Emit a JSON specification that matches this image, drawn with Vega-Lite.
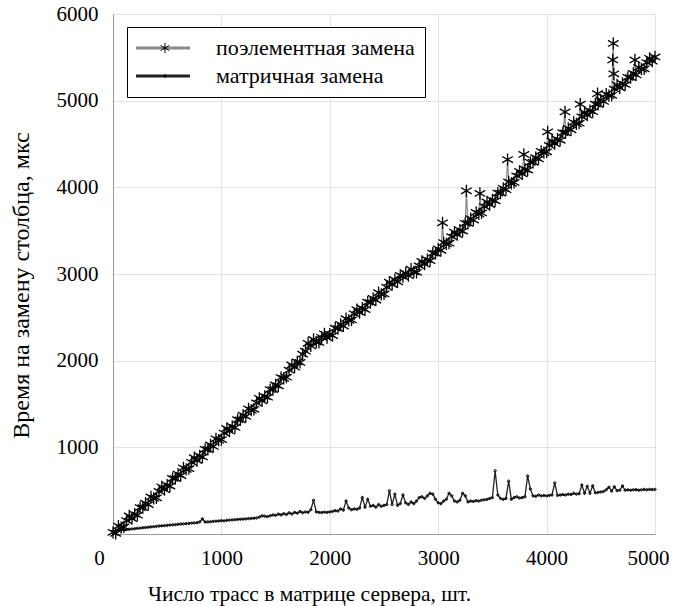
{
"$schema": "https://vega.github.io/schema/vega-lite/v6.json",
"width": 542, "height": 520,
"autosize": {"type": "none"},
"padding": {"left": 113, "top": 14, "right": 19, "bottom": 72},
"background": "white",
"config": {"font": "Liberation Serif", "view": {"stroke": "#888888", "strokeWidth": 1}},
"datasets": {
"p": [
{"x":0,"y":20},{"x":25,"y":8},{"x":50,"y":91},{"x":75,"y":74},{"x":100,"y":82},{"x":125,"y":155},{"x":150,"y":208},{"x":175,"y":176},{"x":200,"y":229},{"x":225,"y":217},
{"x":250,"y":305},{"x":275,"y":303},{"x":300,"y":356},{"x":325,"y":339},{"x":350,"y":427},{"x":375,"y":410},{"x":400,"y":418},{"x":425,"y":491},{"x":450,"y":544},{"x":475,"y":512},
{"x":500,"y":565},{"x":525,"y":553},{"x":550,"y":641},{"x":575,"y":639},{"x":600,"y":692},{"x":625,"y":675},{"x":650,"y":763},{"x":675,"y":746},{"x":700,"y":754},{"x":725,"y":827},
{"x":750,"y":880},{"x":775,"y":848},{"x":800,"y":901},{"x":825,"y":889},{"x":850,"y":977},{"x":875,"y":975},{"x":900,"y":1028},{"x":925,"y":1011},{"x":950,"y":1099},{"x":975,"y":1082},
{"x":1000,"y":1090},{"x":1025,"y":1164},{"x":1050,"y":1218},{"x":1075,"y":1187},{"x":1100,"y":1241},{"x":1125,"y":1230},{"x":1150,"y":1319},{"x":1175,"y":1318},{"x":1200,"y":1372},{"x":1225,"y":1356},
{"x":1250,"y":1445},{"x":1275,"y":1429},{"x":1300,"y":1438},{"x":1325,"y":1512},{"x":1350,"y":1566},{"x":1375,"y":1535},{"x":1400,"y":1589},{"x":1425,"y":1578},{"x":1450,"y":1667},{"x":1475,"y":1666},
{"x":1500,"y":1720},{"x":1525,"y":1710},{"x":1550,"y":1805},{"x":1575,"y":1795},{"x":1600,"y":1810},{"x":1625,"y":1890},{"x":1650,"y":1950},{"x":1675,"y":1925},{"x":1700,"y":1985},{"x":1725,"y":1980},
{"x":1750,"y":2075},{"x":1775,"y":2110},{"x":1800,"y":2200},{"x":1825,"y":2170},{"x":1850,"y":2245},{"x":1875,"y":2215},{"x":1900,"y":2210},{"x":1925,"y":2270},{"x":1950,"y":2310},{"x":1975,"y":2265},
{"x":2000,"y":2305},{"x":2025,"y":2290},{"x":2050,"y":2375},{"x":2075,"y":2370},{"x":2100,"y":2420},{"x":2125,"y":2400},{"x":2150,"y":2485},{"x":2175,"y":2465},{"x":2200,"y":2470},{"x":2225,"y":2540},
{"x":2250,"y":2590},{"x":2275,"y":2555},{"x":2300,"y":2605},{"x":2325,"y":2590},{"x":2350,"y":2675},{"x":2375,"y":2670},{"x":2400,"y":2720},{"x":2425,"y":2700},{"x":2450,"y":2785},{"x":2475,"y":2765},
{"x":2500,"y":2770},{"x":2525,"y":2848},{"x":2550,"y":2905},{"x":2575,"y":2878},{"x":2600,"y":2935},{"x":2625,"y":2910},{"x":2650,"y":2985},{"x":2675,"y":2970},{"x":2700,"y":3010},{"x":2725,"y":2980},
{"x":2750,"y":3055},{"x":2775,"y":3025},{"x":2800,"y":3020},{"x":2825,"y":3093},{"x":2850,"y":3145},{"x":2875,"y":3113},{"x":2900,"y":3165},{"x":2925,"y":3153},{"x":2950,"y":3240},{"x":2975,"y":3238},
{"x":3000,"y":3290},{"x":3025,"y":3274},{"x":3040,"y":3590},{"x":3050,"y":3363},{"x":3075,"y":3347},{"x":3100,"y":3356},{"x":3125,"y":3430},{"x":3150,"y":3484},{"x":3175,"y":3453},{"x":3200,"y":3507},
{"x":3225,"y":3496},{"x":3250,"y":3585},{"x":3260,"y":3960},{"x":3275,"y":3584},{"x":3300,"y":3638},{"x":3325,"y":3622},{"x":3350,"y":3711},{"x":3375,"y":3695},{"x":3385,"y":3930},{"x":3400,"y":3704},
{"x":3425,"y":3778},{"x":3450,"y":3832},{"x":3475,"y":3801},{"x":3500,"y":3855},{"x":3525,"y":3845},{"x":3550,"y":3934},{"x":3575,"y":3934},{"x":3600,"y":3988},{"x":3625,"y":3973},{"x":3640,"y":4320},
{"x":3650,"y":4062},{"x":3675,"y":4047},{"x":3700,"y":4056},{"x":3725,"y":4131},{"x":3750,"y":4185},{"x":3775,"y":4155},{"x":3790,"y":4380},{"x":3800,"y":4209},{"x":3825,"y":4199},{"x":3850,"y":4288},
{"x":3875,"y":4288},{"x":3900,"y":4342},{"x":3925,"y":4327},{"x":3950,"y":4416},{"x":3975,"y":4401},{"x":4000,"y":4410},{"x":4010,"y":4640},{"x":4025,"y":4483},{"x":4050,"y":4535},{"x":4075,"y":4503},
{"x":4100,"y":4555},{"x":4125,"y":4543},{"x":4150,"y":4630},{"x":4170,"y":4870},{"x":4175,"y":4628},{"x":4200,"y":4680},{"x":4225,"y":4663},{"x":4250,"y":4750},{"x":4275,"y":4733},{"x":4300,"y":4740},
{"x":4310,"y":4960},{"x":4325,"y":4813},{"x":4350,"y":4865},{"x":4375,"y":4833},{"x":4400,"y":4885},{"x":4425,"y":4873},{"x":4450,"y":4960},{"x":4470,"y":5080},{"x":4475,"y":4958},{"x":4500,"y":5010},
{"x":4525,"y":4991},{"x":4550,"y":5076},{"x":4575,"y":5057},{"x":4600,"y":5062},{"x":4610,"y":5470},{"x":4615,"y":5660},{"x":4620,"y":5310},{"x":4625,"y":5133},{"x":4650,"y":5183},{"x":4675,"y":5149},
{"x":4700,"y":5199},{"x":4725,"y":5185},{"x":4750,"y":5270},{"x":4775,"y":5266},{"x":4800,"y":5316},{"x":4815,"y":5470},{"x":4825,"y":5297},{"x":4850,"y":5382},{"x":4875,"y":5363},{"x":4900,"y":5368},
{"x":4925,"y":5439},{"x":4950,"y":5489},{"x":4975,"y":5455},{"x":5000,"y":5505}
],
"m": [
{"x":0,"y":30},{"x":25,"y":35},{"x":50,"y":40},{"x":75,"y":45},{"x":100,"y":48},{"x":125,"y":52},{"x":150,"y":55},{"x":175,"y":58},{"x":200,"y":62},{"x":225,"y":65},
{"x":250,"y":68},{"x":275,"y":72},{"x":300,"y":75},{"x":325,"y":78},{"x":350,"y":82},{"x":375,"y":85},{"x":400,"y":88},{"x":425,"y":92},{"x":450,"y":95},{"x":475,"y":97},
{"x":500,"y":100},{"x":525,"y":103},{"x":550,"y":106},{"x":575,"y":108},{"x":600,"y":112},{"x":625,"y":115},{"x":650,"y":117},{"x":675,"y":120},{"x":700,"y":122},{"x":725,"y":126},
{"x":750,"y":128},{"x":775,"y":130},{"x":800,"y":140},{"x":825,"y":175},{"x":850,"y":138},{"x":875,"y":140},{"x":900,"y":142},{"x":925,"y":145},{"x":950,"y":148},{"x":975,"y":150},
{"x":1000,"y":155},{"x":1025,"y":152},{"x":1050,"y":158},{"x":1075,"y":160},{"x":1100,"y":163},{"x":1125,"y":165},{"x":1150,"y":168},{"x":1175,"y":170},{"x":1200,"y":172},{"x":1225,"y":175},
{"x":1250,"y":178},{"x":1275,"y":180},{"x":1300,"y":182},{"x":1325,"y":185},{"x":1350,"y":195},{"x":1375,"y":210},{"x":1400,"y":205},{"x":1425,"y":200},{"x":1450,"y":210},{"x":1475,"y":220},
{"x":1500,"y":215},{"x":1525,"y":230},{"x":1550,"y":220},{"x":1575,"y":235},{"x":1600,"y":225},{"x":1625,"y":245},{"x":1650,"y":230},{"x":1675,"y":250},{"x":1700,"y":240},{"x":1725,"y":260},
{"x":1750,"y":245},{"x":1775,"y":255},{"x":1800,"y":250},{"x":1825,"y":280},{"x":1850,"y":390},{"x":1875,"y":255},{"x":1900,"y":250},{"x":1925,"y":248},{"x":1950,"y":252},{"x":1975,"y":250},
{"x":2000,"y":255},{"x":2025,"y":260},{"x":2050,"y":270},{"x":2075,"y":265},{"x":2100,"y":290},{"x":2125,"y":275},{"x":2150,"y":380},{"x":2175,"y":300},{"x":2200,"y":280},{"x":2225,"y":290},
{"x":2250,"y":285},{"x":2275,"y":300},{"x":2300,"y":420},{"x":2325,"y":310},{"x":2350,"y":400},{"x":2375,"y":320},{"x":2400,"y":330},{"x":2425,"y":310},{"x":2450,"y":340},{"x":2475,"y":320},
{"x":2500,"y":330},{"x":2525,"y":340},{"x":2550,"y":500},{"x":2575,"y":340},{"x":2600,"y":460},{"x":2625,"y":330},{"x":2650,"y":350},{"x":2675,"y":450},{"x":2700,"y":360},{"x":2725,"y":340},
{"x":2750,"y":370},{"x":2775,"y":350},{"x":2800,"y":380},{"x":2825,"y":420},{"x":2850,"y":430},{"x":2875,"y":410},{"x":2900,"y":440},{"x":2925,"y":470},{"x":2950,"y":460},{"x":2975,"y":400},
{"x":3000,"y":360},{"x":3025,"y":350},{"x":3050,"y":380},{"x":3075,"y":400},{"x":3100,"y":470},{"x":3125,"y":440},{"x":3150,"y":380},{"x":3175,"y":370},{"x":3200,"y":390},{"x":3225,"y":470},
{"x":3250,"y":440},{"x":3275,"y":370},{"x":3300,"y":380},{"x":3325,"y":375},{"x":3350,"y":385},{"x":3375,"y":380},{"x":3400,"y":390},{"x":3425,"y":395},{"x":3450,"y":400},{"x":3475,"y":410},
{"x":3500,"y":420},{"x":3525,"y":730},{"x":3550,"y":450},{"x":3575,"y":410},{"x":3600,"y":400},{"x":3625,"y":410},{"x":3650,"y":610},{"x":3675,"y":400},{"x":3700,"y":420},{"x":3725,"y":430},
{"x":3750,"y":415},{"x":3775,"y":420},{"x":3800,"y":430},{"x":3825,"y":670},{"x":3850,"y":520},{"x":3875,"y":440},{"x":3900,"y":435},{"x":3925,"y":450},{"x":3950,"y":440},{"x":3975,"y":445},
{"x":4000,"y":440},{"x":4025,"y":445},{"x":4050,"y":450},{"x":4075,"y":590},{"x":4100,"y":445},{"x":4125,"y":450},{"x":4150,"y":455},{"x":4175,"y":450},{"x":4200,"y":460},{"x":4225,"y":455},
{"x":4250,"y":470},{"x":4275,"y":460},{"x":4300,"y":465},{"x":4325,"y":565},{"x":4350,"y":470},{"x":4375,"y":550},{"x":4400,"y":470},{"x":4425,"y":555},{"x":4450,"y":475},{"x":4475,"y":480},
{"x":4500,"y":485},{"x":4525,"y":490},{"x":4550,"y":510},{"x":4575,"y":540},{"x":4600,"y":495},{"x":4625,"y":545},{"x":4650,"y":500},{"x":4675,"y":505},{"x":4700,"y":555},{"x":4725,"y":505},
{"x":4750,"y":510},{"x":4775,"y":505},{"x":4800,"y":510},{"x":4825,"y":512},{"x":4850,"y":505},{"x":4875,"y":510},{"x":4900,"y":515},{"x":4925,"y":510},{"x":4950,"y":515},{"x":4975,"y":512},{"x":5000,"y":515}
]
},
"layer": [
{
"data": {"name": "p"},
"mark": {"type": "line", "strokeWidth": 1.2},
"encoding": {
"x": {"field": "x", "type": "quantitative", "scale": {"domain": [0, 5000], "nice": false},
"axis": {"values": [0,1000,2000,3000,4000,5000], "format": "d", "labelFlush": false, "grid": true, "gridColor": "#e2e2e2", "gridWidth": 1, "ticks": false, "domainColor": "#999999",
"labelFont": "Liberation Serif", "labelFontSize": 21, "labelColor": "black", "labelPadding": 13,
"labelOffset": {"condition": [{"test": "datum.value === 0", "value": -14}, {"test": "datum.value === 5000", "value": -7}], "value": 0},
"title": "Число трасс в матрице сервера, шт.", "titleFont": "Liberation Serif", "titleFontSize": 21.5, "titleFontWeight": "normal", "titleColor": "black",
"titleX": 196, "titleY": 60, "titleAlign": "center", "titleBaseline": "middle"}},
"y": {"field": "y", "type": "quantitative", "scale": {"domain": [0, 6000], "nice": false},
"axis": {"values": [1000,2000,3000,4000,5000,6000], "format": "d", "labelFlush": false, "grid": true, "gridColor": "#e2e2e2", "gridWidth": 1, "ticks": false, "domainColor": "#999999",
"labelFont": "Liberation Serif", "labelFontSize": 21, "labelColor": "black", "labelPadding": 15,
"title": "Время на замену столбца, мкс", "titleFont": "Liberation Serif", "titleFontSize": 24, "titleFontWeight": "normal", "titleColor": "black",
"titleX": -92, "titleY": 271, "titleAngle": -90, "titleAlign": "center", "titleBaseline": "middle"}},
"color": {"datum": "поэлементная замена", "type": "nominal",
"scale": {"domain": ["поэлементная замена", "матричная замена"], "range": ["#8a8a8a", "#222222"]},
"legend": {"title": null, "orient": "none", "legendX": 14, "legendY": 13, "padding": 10, "rowPadding": 6,
"strokeColor": "black", "fillColor": "white", "symbolType": "M-2.4,0H8.4", "symbolSize": 100, "symbolStrokeWidth": 3,
"labelFont": "Liberation Serif", "labelFontSize": 22, "labelColor": "black", "labelOffset": 57, "labelLimit": 400,
"encode": {"symbols": {"update": {"stroke": {"value": "#9a9a9a"}, "strokeWidth": {"value": 3}, "fill": {"value": "transparent"}}}}}}
}
},
{
"data": {"name": "m"},
"mark": {"type": "line", "strokeWidth": 1.3},
"encoding": {
"x": {"field": "x", "type": "quantitative"},
"y": {"field": "y", "type": "quantitative"},
"color": {"datum": "матричная замена", "type": "nominal"}
}
},
{
"data": {"name": "p"},
"mark": {"type": "point", "filled": false, "color": "black", "strokeWidth": 1.3, "size": 150, "opacity": 1},
"encoding": {
"x": {"field": "x", "type": "quantitative"},
"y": {"field": "y", "type": "quantitative"},
"shape": {"datum": "поэлементная замена", "type": "nominal",
"scale": {"domain": ["поэлементная замена", "матричная замена", "x"], "range": ["M0,-1V1M-0.87,-0.5L0.87,0.5M-0.87,0.5L0.87,-0.5", "M-0.25,0a0.25,0.25 0 1,0 0.5,0a0.25,0.25 0 1,0 -0.5,0", "circle"]},
"legend": {"title": null, "orient": "none", "legendX": 31, "legendY": 13, "padding": 10, "rowPadding": 6,
"values": ["поэлементная замена", "матричная замена"],
"symbolSize": 100, "symbolStrokeWidth": 1, "symbolStrokeColor": "black", "symbolFillColor": "transparent",
"labelFont": "Liberation Serif", "labelFontSize": 22, "labelOpacity": 0, "labelExpr": "' '", "labelOffset": 0, "labelLimit": 400}}
}
},
{
"data": {"name": "m"},
"mark": {"type": "point", "filled": false, "color": "black", "strokeWidth": 1, "size": 90, "opacity": 1},
"encoding": {
"x": {"field": "x", "type": "quantitative"},
"y": {"field": "y", "type": "quantitative"},
"shape": {"datum": "матричная замена", "type": "nominal"}
}
}
]
}
